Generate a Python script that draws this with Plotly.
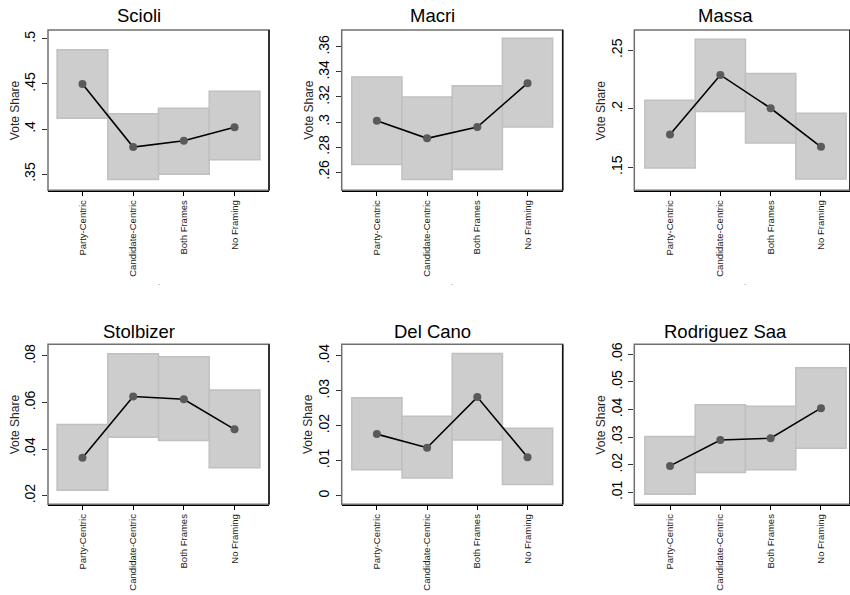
import plotly.graph_objects as go

categories = ["Party-Centric", "Candidate-Centric", "Both Frames", "No Framing"]
candidates = ["Scioli", "Macri", "Massa", "Stolbizer", "Del Cano", "Rodriguez Saa"]

scioli_est = [0.450, 0.380, 0.387, 0.402]
scioli_lo = [0.412, 0.344, 0.350, 0.366]
scioli_hi = [0.488, 0.417, 0.423, 0.442]

macri_est = [0.301, 0.287, 0.296, 0.331]
macri_lo = [0.266, 0.254, 0.262, 0.296]
macri_hi = [0.336, 0.320, 0.329, 0.367]

massa_est = [0.178, 0.229, 0.2005, 0.1675]
massa_lo = [0.1495, 0.1977, 0.1708, 0.1401]
massa_hi = [0.2073, 0.2596, 0.2302, 0.1963]

stolbizer_est = [0.0363, 0.0626, 0.0614, 0.0485]
stolbizer_lo = [0.0223, 0.0451, 0.0437, 0.0320]
stolbizer_hi = [0.0506, 0.0810, 0.0797, 0.0654]

delcano_est = [0.0176, 0.0137, 0.0282, 0.0110]
delcano_lo = [0.0074, 0.0050, 0.0159, 0.0032]
delcano_hi = [0.0280, 0.0227, 0.0407, 0.0193]

rsaa_est = [0.0196, 0.0290, 0.0296, 0.0405]
rsaa_lo = [0.0093, 0.0172, 0.0182, 0.0260]
rsaa_hi = [0.0302, 0.0417, 0.0412, 0.0551]

tick_vals = [
    [0.35, 0.40, 0.45, 0.50],
    [0.26, 0.28, 0.30, 0.32, 0.34, 0.36],
    [0.15, 0.20, 0.25],
    [0.02, 0.04, 0.06, 0.08],
    [0.00, 0.01, 0.02, 0.03, 0.04],
    [0.01, 0.02, 0.03, 0.04, 0.05, 0.06],
]
tick_text = [
    [".35", ".4", ".45", ".5"],
    [".26", ".28", ".3", ".32", ".34", ".36"],
    [".15", ".2", ".25"],
    [".02", ".04", ".06", ".08"],
    ["0", ".01", ".02", ".03", ".04"],
    [".01", ".02", ".03", ".04", ".05", ".06"],
]
y_ranges = [
    [0.332, 0.510],
    [0.2454, 0.3736],
    [0.1303, 0.2675],
    [0.0163, 0.0850],
    [-0.0025, 0.0433],
    [0.0057, 0.0636],
]

panels = [
    (scioli_est, scioli_lo, scioli_hi),
    (macri_est, macri_lo, macri_hi),
    (massa_est, massa_lo, massa_hi),
    (stolbizer_est, stolbizer_lo, stolbizer_hi),
    (delcano_est, delcano_lo, delcano_hi),
    (rsaa_est, rsaa_lo, rsaa_hi),
]

W, H = 850, 595
col_px = [(48, 269), (341.7, 562.7), (634.3, 850)]
col_full_right = [269, 562.7, 856]
row_px = [(28, 189), (343.5, 504)]
x_ranges = [[0.32, 4.68], [0.30, 4.70], [0.29, 4.577]]
title_y_px = [14, 331]

FONT = "Liberation Sans, Arial, sans-serif"
xpos = [i + 1 for i in range(len(categories))]

fig = go.Figure()
layout = dict(
    width=W, height=H,
    margin=dict(l=0, r=0, t=0, b=0),
    paper_bgcolor="white", plot_bgcolor="white",
    showlegend=False, barmode="overlay",
    font=dict(family=FONT, color="black"),
)
annotations = []
shapes = []

for i, (est, lo, hi) in enumerate(panels):
    r, c = divmod(i, 3)
    n = i + 1
    xa = "x" if n == 1 else f"x{n}"
    ya = "y" if n == 1 else f"y{n}"
    fig.add_trace(go.Bar(
        x=xpos, y=[h - l for h, l in zip(hi, lo)], base=lo, width=1.0,
        marker=dict(color="#cdcdcd", line=dict(color="#c0c0c0", width=1.5)),
        xaxis=xa, yaxis=ya, hoverinfo="skip",
    ))
    fig.add_trace(go.Scatter(
        x=xpos, y=est, mode="lines+markers",
        line=dict(color="black", width=1.6),
        marker=dict(color="#5a5a5a", size=8),
        xaxis=xa, yaxis=ya,
    ))
    x0, x1 = col_px[c]
    y0, y1 = row_px[r]
    xd = [x0 / W, min(x1 / W, 1.0)]
    yd = [1 - y1 / H, 1 - y0 / H]
    xkey = "xaxis" if n == 1 else f"xaxis{n}"
    ykey = "yaxis" if n == 1 else f"yaxis{n}"
    layout[xkey] = dict(
        domain=xd, anchor=ya, range=x_ranges[c],
        tickmode="array", tickvals=xpos, ticktext=categories,
        tickangle=-90, ticks="outside", ticklen=4, tickcolor="black",
        tickfont=dict(size=9.5, color="#1a1a1a"),
        ticklabelstandoff=0,
        showgrid=False, zeroline=False,
        showline=True, linecolor="black", linewidth=2,
    )
    layout[ykey] = dict(
        domain=yd, anchor=xa, range=y_ranges[i],
        tickmode="array", tickvals=tick_vals[i], ticktext=tick_text[i],
        tickangle=-90, ticks="outside", ticklen=5, tickcolor="#333",
        tickfont=dict(size=14, color="black"),
        ticklabelstandoff=1,
        showgrid=False, zeroline=False, showline=False,
    )
    shapes.append(dict(type="rect", xref=f"{xa} domain", yref=f"{ya} domain",
                       x0=0, x1=1, y0=0, y1=1,
                       line=dict(color="#707070", width=1.5), layer="above"))
    shapes.append(dict(type="line", xref=f"{xa} domain", yref=f"{ya} domain",
                       x0=1, x1=1, y0=0, y1=1,
                       line=dict(color="#111", width=1.5), layer="above"))
    center = (x0 + col_full_right[c]) / 2
    annotations.append(dict(
        text=candidates[i], xref="paper", yref="paper",
        x=(center - 20) / W, y=1 - title_y_px[r] / H,
        xanchor="center", yanchor="middle", showarrow=False,
        font=dict(size=18.5, color="black", family=FONT),
    ))
    annotations.append(dict(
        text="Vote Share", xref="paper", yref="paper",
        x=(x0 - 33) / W, y=1 - (y0 + y1) / 2 / H,
        xanchor="center", yanchor="middle", textangle=-90, showarrow=False,
        font=dict(size=12, color="#262626", family=FONT),
    ))
    if r == 0:
        annotations.append(dict(
            text=".", xref="paper", yref="paper",
            x=center / W, y=1 - (y1 + 92) / H,
            xanchor="center", yanchor="middle", showarrow=False,
            font=dict(size=8, color="#555", family=FONT),
        ))

layout["annotations"] = annotations
layout["shapes"] = shapes
fig.update_layout(**layout)
fig.write_html(
    "out.html",
    config={"displayModeBar": False},
    post_script="document.body.style.margin='0';document.body.style.padding='0';",
)
